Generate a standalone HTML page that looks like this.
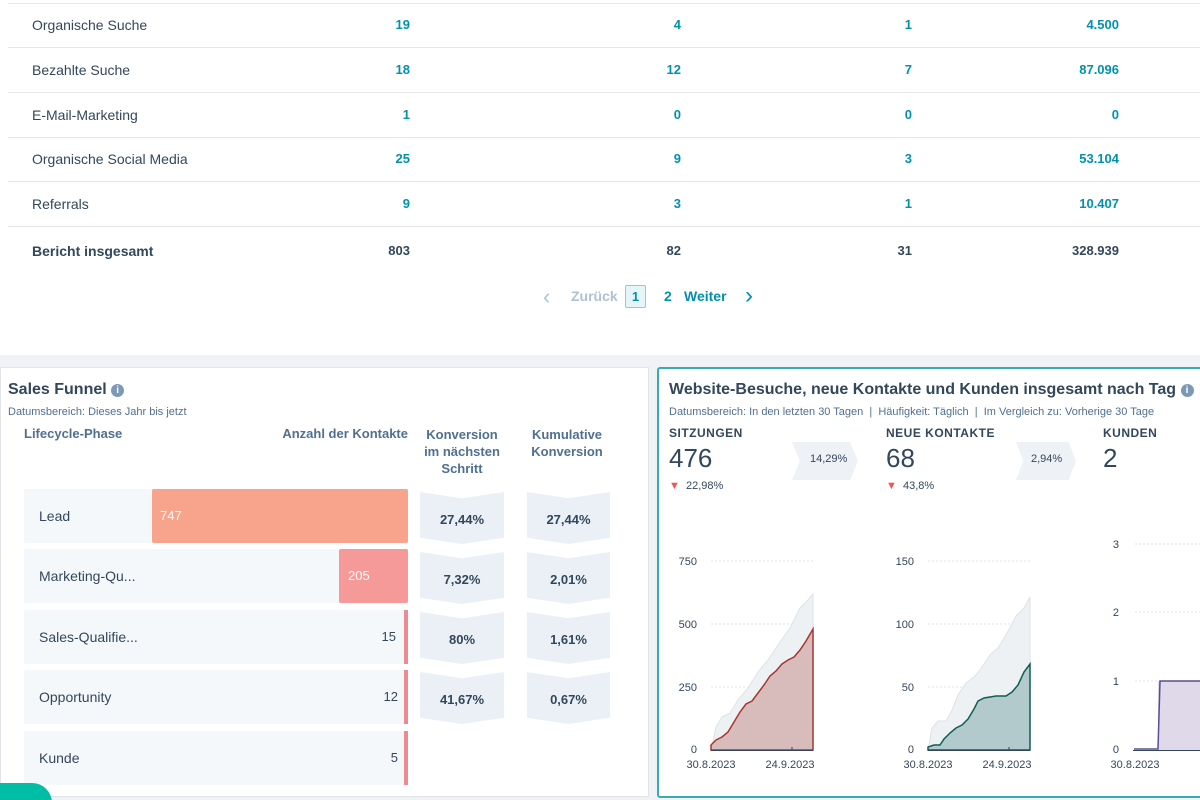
<!DOCTYPE html>
<html><head><meta charset="utf-8"><style>
*{margin:0;padding:0;box-sizing:border-box}
html,body{width:1200px;height:800px;overflow:hidden}
body{max-width:1200px;background:#fff;font-family:"Liberation Sans",sans-serif;color:#33475b;position:relative}
.a{position:absolute;white-space:nowrap}
.row{position:absolute;left:8px;width:1192px;height:1px;background:#e5e8eb}
.t{font-size:14px;color:#33475b}
.n{font-size:13px;font-weight:bold;color:#0091ae;text-align:right}
.b{font-size:13px;font-weight:bold;color:#33475b;text-align:right}
.h{font-size:13px;font-weight:bold;color:#516f90}
.chev{position:absolute;background:#eaf0f6;clip-path:polygon(0 0,50% 12%,100% 0,100% 88%,50% 100%,0 88%)}
.pct{position:absolute;font-size:13px;font-weight:bold;color:#33475b;text-align:center}
.bg{position:absolute;left:24px;width:384px;height:54px;background:#f5f8fa}
</style></head><body>
<div class="row" style="top:3px"></div>
<div class="row" style="top:47px"></div>
<div class="row" style="top:92px"></div>
<div class="row" style="top:137px"></div>
<div class="row" style="top:181px"></div>
<div class="row" style="top:226px"></div>
<div class="a t" style="left:32px;top:17px">Organische Suche</div>
<div class="a t" style="left:32px;top:62px">Bezahlte Suche</div>
<div class="a t" style="left:32px;top:107px">E-Mail-Marketing</div>
<div class="a t" style="left:32px;top:151px">Organische Social Media</div>
<div class="a t" style="left:32px;top:196px">Referrals</div>
<div class="a t" style="left:32px;top:243px;font-weight:bold">Bericht insgesamt</div>
<div class="a n" style="right:790px;top:17px">19</div><div class="a n" style="right:519px;top:17px">4</div><div class="a n" style="right:288px;top:17px">1</div><div class="a n" style="right:81px;top:17px">4.500</div>
<div class="a n" style="right:790px;top:62px">18</div><div class="a n" style="right:519px;top:62px">12</div><div class="a n" style="right:288px;top:62px">7</div><div class="a n" style="right:81px;top:62px">87.096</div>
<div class="a n" style="right:790px;top:107px">1</div><div class="a n" style="right:519px;top:107px">0</div><div class="a n" style="right:288px;top:107px">0</div><div class="a n" style="right:81px;top:107px">0</div>
<div class="a n" style="right:790px;top:151px">25</div><div class="a n" style="right:519px;top:151px">9</div><div class="a n" style="right:288px;top:151px">3</div><div class="a n" style="right:81px;top:151px">53.104</div>
<div class="a n" style="right:790px;top:196px">9</div><div class="a n" style="right:519px;top:196px">3</div><div class="a n" style="right:288px;top:196px">1</div><div class="a n" style="right:81px;top:196px">10.407</div>
<div class="a b" style="right:790px;top:243px">803</div><div class="a b" style="right:519px;top:243px">82</div><div class="a b" style="right:288px;top:243px">31</div><div class="a b" style="right:81px;top:243px">328.939</div>
<div class="a" style="left:543px;top:284px;font-size:22px;color:#b0c1d4">‹</div>
<div class="a" style="left:571px;top:288px;font-size:14px;color:#b0c1d4;font-weight:bold">Zurück</div>
<div class="a" style="left:625px;top:285px;width:21px;height:23px;border:1px solid #7fd1de;background:#e5f5f8;border-radius:2px;font-size:13px;font-weight:bold;color:#0091ae;text-align:center;line-height:21px">1</div>
<div class="a" style="left:664px;top:288px;font-size:14px;font-weight:bold;color:#0091ae">2</div>
<div class="a" style="left:684px;top:288px;font-size:14px;font-weight:bold;color:#0091ae">Weiter</div>
<div class="a" style="left:745px;top:282px;font-size:24px;color:#0091ae">›</div>
<div class="a" style="left:0;top:355px;width:1200px;height:445px;background:#f0f2f5"></div>
<div class="a" style="left:0;top:367px;width:649px;height:430px;background:#fff;border:1px solid #e0e4e8"></div>
<div class="a" style="left:8px;top:381px;font-size:16px;font-weight:bold;color:#33475b">Sales Funnel <span style="display:inline-block;width:13px;height:13px;border-radius:50%;background:#7c98b6;color:#fff;font-size:10px;text-align:center;line-height:13px;vertical-align:1px">i</span></div>
<div class="a" style="left:8px;top:406px;font-size:11px;color:#516f90">Datumsbereich: Dieses Jahr bis jetzt</div>
<div class="a h" style="left:24px;top:426px">Lifecycle-Phase</div>
<div class="a h" style="right:792px;top:426px">Anzahl der Kontakte</div>
<div class="a h" style="left:420px;top:426px;width:84px;text-align:center;line-height:17px;white-space:normal">Konversion im nächsten Schritt</div>
<div class="a h" style="left:522px;top:426px;width:90px;text-align:center;line-height:17px;white-space:normal">Kumulative Konversion</div>
<div class="bg" style="top:489px"></div><div class="bg" style="top:549px"></div><div class="bg" style="top:610px"></div><div class="bg" style="top:670px"></div><div class="bg" style="top:731px"></div>
<div class="a" style="left:152px;top:489px;width:256px;height:54px;background:#f8a48c;border-radius:2px"></div>
<div class="a" style="left:339px;top:549px;width:69px;height:54px;background:#f59a98;border-radius:2px"></div>
<div class="a" style="left:404px;top:610px;width:4px;height:54px;background:#ee8a92"></div>
<div class="a" style="left:404px;top:670px;width:4px;height:54px;background:#ee8a92"></div>
<div class="a" style="left:404px;top:731px;width:4px;height:54px;background:#ee8a92"></div>
<div class="a t" style="left:39px;top:508px">Lead</div>
<div class="a t" style="left:39px;top:568px">Marketing-Qu...</div>
<div class="a t" style="left:39px;top:629px">Sales-Qualifie...</div>
<div class="a t" style="left:39px;top:689px">Opportunity</div>
<div class="a t" style="left:39px;top:750px">Kunde</div>
<div class="a" style="left:160px;top:508px;font-size:13px;color:#fff">747</div>
<div class="a" style="left:348px;top:568px;font-size:13px;color:#fff">205</div>
<div class="a" style="right:804px;top:629px;font-size:13px">15</div>
<div class="a" style="right:802px;top:689px;font-size:13px">12</div>
<div class="a" style="right:802px;top:750px;font-size:13px">5</div>
<div class="chev" style="left:420px;top:492px;width:84px;height:52px"></div><div class="chev" style="left:527px;top:492px;width:83px;height:52px"></div>
<div class="chev" style="left:420px;top:552px;width:84px;height:52px"></div><div class="chev" style="left:527px;top:552px;width:83px;height:52px"></div>
<div class="chev" style="left:420px;top:612px;width:84px;height:52px"></div><div class="chev" style="left:527px;top:612px;width:83px;height:52px"></div>
<div class="chev" style="left:420px;top:672px;width:84px;height:52px"></div><div class="chev" style="left:527px;top:672px;width:83px;height:52px"></div>
<div class="pct" style="left:420px;top:512px;width:84px">27,44%</div><div class="pct" style="left:527px;top:512px;width:83px">27,44%</div>
<div class="pct" style="left:420px;top:572px;width:84px">7,32%</div><div class="pct" style="left:527px;top:572px;width:83px">2,01%</div>
<div class="pct" style="left:420px;top:632px;width:84px">80%</div><div class="pct" style="left:527px;top:632px;width:83px">1,61%</div>
<div class="pct" style="left:420px;top:692px;width:84px">41,67%</div><div class="pct" style="left:527px;top:692px;width:83px">0,67%</div>
<div class="a" style="left:-20px;top:783px;width:72px;height:40px;border-radius:20px;background:#00bda5"></div>
<div class="a" style="left:657px;top:367px;width:560px;height:431px;background:#fff;border:2px solid #3aa9b8;border-radius:3px"></div>
<div class="a" style="left:669px;top:381px;font-size:16px;font-weight:bold;color:#33475b">Website-Besuche, neue Kontakte und Kunden insgesamt nach Tag <span style="display:inline-block;width:13px;height:13px;border-radius:50%;background:#7c98b6;color:#fff;font-size:10px;text-align:center;line-height:13px;vertical-align:1px">i</span></div>
<div class="a" style="left:669px;top:406px;font-size:11px;color:#516f90">Datumsbereich: In den letzten 30 Tagen &nbsp;|&nbsp; Häufigkeit: Täglich &nbsp;|&nbsp; Im Vergleich zu: Vorherige 30 Tage</div>
<div class="a" style="left:669px;top:426px;font-size:12px;font-weight:bold;letter-spacing:.5px">SITZUNGEN</div>
<div class="a" style="left:886px;top:426px;font-size:12px;font-weight:bold;letter-spacing:.5px">NEUE KONTAKTE</div>
<div class="a" style="left:1103px;top:426px;font-size:12px;font-weight:bold;letter-spacing:.5px">KUNDEN</div>
<div class="a" style="left:669px;top:443px;font-size:26px">476</div>
<div class="a" style="left:886px;top:443px;font-size:26px">68</div>
<div class="a" style="left:1103px;top:443px;font-size:26px">2</div>
<div class="a" style="left:792px;top:442px;width:66px;height:38px;background:#eef2f6;clip-path:polygon(0 0,88% 0,100% 50%,88% 100%,0 100%,12% 50%)"></div>
<div class="a" style="left:810px;top:453px;font-size:11px">14,29%</div>
<div class="a" style="left:1016px;top:442px;width:60px;height:38px;background:#eef2f6;clip-path:polygon(0 0,88% 0,100% 50%,88% 100%,0 100%,12% 50%)"></div>
<div class="a" style="left:1031px;top:453px;font-size:11px">2,94%</div>
<div class="a" style="left:669px;top:480px;font-size:11px"><span style="color:#f2545b">▼</span>&nbsp; 22,98%</div>
<div class="a" style="left:886px;top:480px;font-size:11px"><span style="color:#f2545b">▼</span>&nbsp; 43,8%</div>
<svg class="a" style="left:0;top:0" width="1200" height="800" font-family="Liberation Sans" font-size="11" fill="#33475b">
<g stroke="#dfe3e8" stroke-dasharray="2,2"><line x1="711" x2="813" y1="561" y2="561"/><line x1="711" x2="813" y1="624" y2="624"/><line x1="711" x2="813" y1="687" y2="687"/>
<line x1="928" x2="1030" y1="561" y2="561"/><line x1="928" x2="1030" y1="624" y2="624"/><line x1="928" x2="1030" y1="687" y2="687"/>
<line x1="1135" x2="1200" y1="544" y2="544"/><line x1="1135" x2="1200" y1="612" y2="612"/><line x1="1135" x2="1200" y1="681" y2="681"/></g>
<text x="697" y="565" text-anchor="end">750</text><text x="697" y="628" text-anchor="end">500</text><text x="697" y="691" text-anchor="end">250</text><text x="697" y="753" text-anchor="end">0</text>
<text x="914" y="565" text-anchor="end">150</text><text x="914" y="628" text-anchor="end">100</text><text x="914" y="691" text-anchor="end">50</text><text x="914" y="753" text-anchor="end">0</text>
<text x="1119" y="548" text-anchor="end">3</text><text x="1119" y="616" text-anchor="end">2</text><text x="1119" y="685" text-anchor="end">1</text><text x="1119" y="753" text-anchor="end">0</text>
<path d="M711 750 L716 727 L722 717 L730 713 L738 700 L748 688 L758 672 L768 660 L778 645 L790 628 L800 608 L808 600 L813 594 L813 750 Z" fill="#eef1f4" stroke="#dde2e7"/>
<path d="M711 750 L711 745 L716 740 L722 737 L728 732 L734 722 L740 712 L746 704 L752 701 L758 693 L764 685 L770 676 L776 671 L782 664 L788 660 L794 657 L800 650 L806 641 L813 629 L813 750 Z" fill="#d7bcbb" stroke="#a8352e" stroke-width="1.5"/>
<path d="M928 750 L932 728 L938 721 L946 721 L952 710 L958 695 L966 683 L974 677 L980 670 L990 655 L998 648 L1006 635 L1016 616 L1024 608 L1030 597 L1030 750 Z" fill="#eef1f4" stroke="#dde2e7"/>
<path d="M928 750 L928 747 L934 745 L940 745 L944 739 L950 733 L956 728 L962 725 L968 719 L974 709 L978 701 L984 698 L990 697 L996 696 L1006 696 L1012 692 L1018 685 L1024 672 L1030 664 L1030 750 Z" fill="#b3cacc" stroke="#0e5e55" stroke-width="1.5"/>
<path d="M1158 750 L1158 681 L1200 681 L1200 750 Z" fill="#dfd9ea"/>
<path d="M1134 749 L1158 749 L1160 681 L1200 681" fill="none" stroke="#5c4e8c" stroke-width="1.5"/>
<g stroke="#33475b"><line x1="711" x2="813" y1="750.5" y2="750.5"/><line x1="928" x2="1030" y1="750.5" y2="750.5"/><line x1="1133" x2="1200" y1="750.5" y2="750.5"/>
<line x1="792" x2="792" y1="747" y2="750"/><line x1="1009" x2="1009" y1="747" y2="750"/></g>
<text x="711" y="768" text-anchor="middle">30.8.2023</text><text x="790" y="768" text-anchor="middle">24.9.2023</text>
<text x="928" y="768" text-anchor="middle">30.8.2023</text><text x="1007" y="768" text-anchor="middle">24.9.2023</text>
<text x="1135" y="768" text-anchor="middle">30.8.2023</text>
</svg>
</body></html>
